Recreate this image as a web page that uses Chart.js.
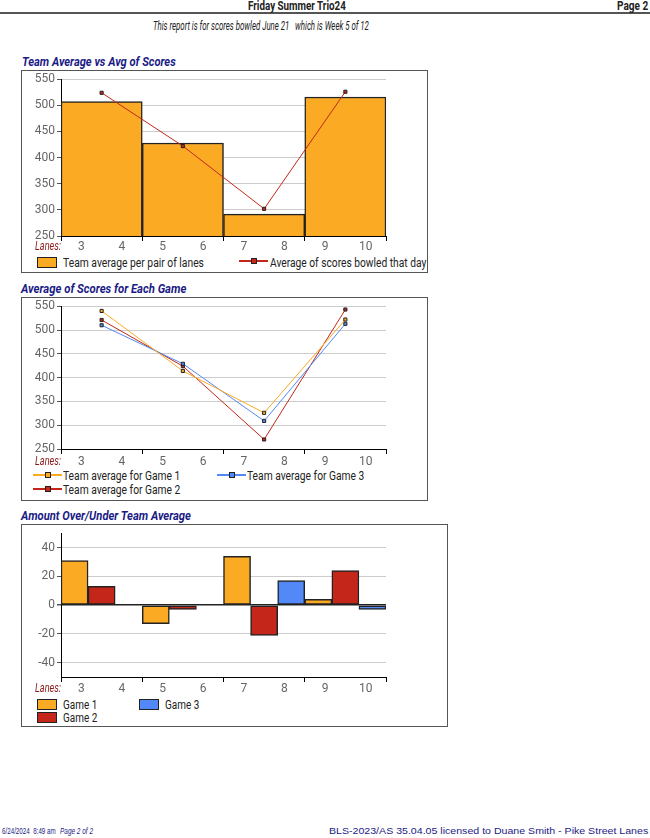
<!DOCTYPE html>
<html>
<head>
<meta charset="utf-8">
<script src="https://cdn.jsdelivr.net/npm/chart.js@4.4.1/dist/chart.umd.min.js"></script>
<style>
body { margin: 0; width: 650px; height: 838px; position: relative; background: #fff; font-family: Roboto, sans-serif; overflow: hidden; }
.t { position: absolute; white-space: pre; transform-origin: 0 50%; line-height: 1; }
.box { position: absolute; border: 1.5px solid #555; box-sizing: border-box; }
.rule { position: absolute; left: 0; width: 650px; top: 12px; height: 2px; background: #555; }
canvas { position: absolute; }
.sw { position: absolute; border: 1px solid #222; box-sizing: border-box; }
.ln { position: absolute; height: 1.5px; }
.mk { position: absolute; width: 6px; height: 6px; border: 1px solid #222; box-sizing: border-box; }
</style>
</head>
<body>
<div class="rule"></div>
<div class="box" style="left:21px;top:70px;width:407px;height:203px"></div>
<div class="box" style="left:21px;top:297px;width:407px;height:204px"></div>
<div class="box" style="left:21px;top:524px;width:427px;height:203px"></div>
<canvas id="avgChart" width="407" height="186" style="left:21px;top:70px"></canvas>
<canvas id="gameChart" width="407" height="172" style="left:21px;top:297px"></canvas>
<canvas id="diffChart" width="407" height="173" style="left:21px;top:524px"></canvas>

<script>
// data
const pairLabels = ['3-4', '5-6', '7-8', '9-10'];
const laneLabels = ['3', '4', '5', '6', '7', '8', '9', '10'];

const teamAverage = [507, 428, 292, 516];
const avgOfScores = [524, 422, 302, 526];

const game1Avg = [540, 414, 326, 522];
const game2Avg = [521, 424, 270, 543];
const game3Avg = [510, 429, 309, 513];

const game1Diff = [31, -13, 34, 4];
const game2Diff = [13, -3, -21, 24];
const game3Diff = [0, 0, 17, -3];

const diffTicks = [-40, -20, 0, 20, 40];

const gameNames = ['Game 1', 'Game 2', 'Game 3'];

const ORANGE = '#FBAA24';
const RED = '#C42719';
const BLUE = '#5288F7';
const NAVY = '#1B1B86';

// ---- text helpers ----
function addText(text, x, y, size, opts) {
    opts = opts || {};
    const el = document.createElement('div');
    el.className = 't';
    el.textContent = text;
    el.style.fontSize = size + 'px';
    el.style.fontWeight = opts.bold ? 'bold' : 'normal';
    el.style.fontStyle = opts.italic ? 'italic' : 'normal';
    el.style.color = opts.color || '#222';
    if (opts.family) el.style.fontFamily = opts.family;
    document.body.appendChild(el);
    el.style.top = (y - el.offsetHeight / 2) + 'px';
    let w = el.offsetWidth;
    if (opts.width) {
        el.style.transform = 'scaleX(' + (opts.width / w) + ')';
        w = opts.width;
    }
    if (opts.align === 'right') x = x - w;
    if (opts.align === 'center') x = x - w / 2;
    el.style.left = x + 'px';
    return el;
}

function addSwatch(x, y, w, h, color) {
    const el = document.createElement('div');
    el.className = 'sw';
    Object.assign(el.style, { left: x + 'px', top: y + 'px', width: w + 'px', height: h + 'px', background: color });
    document.body.appendChild(el);
}

function addLineKey(x, y, w, color) {
    const ln = document.createElement('div');
    ln.className = 'ln';
    Object.assign(ln.style, { left: x + 'px', top: (y - 0.75) + 'px', width: w + 'px', background: color });
    document.body.appendChild(ln);
    const mk = document.createElement('div');
    mk.className = 'mk';
    Object.assign(mk.style, { left: (x + w / 2 - 3) + 'px', top: (y - 3) + 'px', background: color });
    document.body.appendChild(mk);
}

// ---- page text ----
addText('Friday Summer Trio24', 297, 6, 12, { bold: true, align: 'center', width: 98 });
addText('Page 2', 648, 6, 12, { bold: true, align: 'right', width: 31 });
addText('This report is for scores bowled June 21   which is Week 5 of 12', 153, 26, 12, { italic: true, width: 216 });

addText('Team Average vs Avg of Scores', 22, 62, 12, { bold: true, italic: true, color: NAVY, width: 154 });
addText('Average of Scores for Each Game', 21, 289, 12, { bold: true, italic: true, color: NAVY, width: 165 });
addText('Amount Over/Under Team Average', 21, 516, 12, { bold: true, italic: true, color: NAVY, width: 170 });

addText('Lanes:', 35, 246, 12, { italic: true, color: '#8B1A1A', width: 26 });
addText('Lanes:', 35, 461, 12, { italic: true, color: '#8B1A1A', width: 26 });
addText('Lanes:', 35, 688, 12, { italic: true, color: '#8B1A1A', width: 26 });

// legends
addSwatch(37, 257, 20, 11, ORANGE);
addText('Team average per pair of lanes', 63, 263, 12, { width: 141 });
addLineKey(239, 261, 29, RED);
addText('Average of scores bowled that day', 270, 263, 12, { width: 156 });

addLineKey(33, 475, 29, ORANGE);
addText('Team average for ' + gameNames[0], 63, 476, 12, { width: 117 });
addLineKey(33, 489, 29, RED);
addText('Team average for ' + gameNames[1], 63, 490, 12, { width: 117 });
addLineKey(217, 475, 29, BLUE);
addText('Team average for ' + gameNames[2], 247, 476, 12, { width: 117 });

addSwatch(37, 699, 20, 11, ORANGE);
addText(gameNames[0], 63, 705, 12, { width: 34 });
addSwatch(37, 712, 20, 11, RED);
addText(gameNames[1], 63, 718, 12, { width: 34 });
addSwatch(139, 699, 20, 11, BLUE);
addText(gameNames[2], 165, 705, 12, { width: 34 });

// footer
addText('6/24/2024  8:49 am', 2, 831, 9, { color: NAVY, family: 'Liberation Sans, Arial, sans-serif', width: 54 });
addText('Page 2 of 2', 60, 831, 9, { italic: true, color: NAVY, family: 'Liberation Sans, Arial, sans-serif', width: 33 });
addText('BLS-2023/AS 35.04.05 licensed to Duane Smith - Pike Street Lanes', 648, 831, 9, { color: NAVY, family: 'Liberation Sans, Arial, sans-serif', align: 'right', width: 319 });

// ---- chart helpers ----
Chart.defaults.font.family = 'Roboto';
Chart.defaults.font.size = 12;

function pairAxis() {
    return {
        type: 'category',
        labels: pairLabels,
        offset: true,
        grid: { offset: true, drawOnChartArea: false, color: '#000', tickColor: '#000', tickLength: 5 },
        ticks: { display: false },
        border: { color: '#000', width: 1 },
        afterFit: s => { s.height = 0; }
    };
}

function laneAxis(pad) {
    return {
        type: 'linear',
        position: 'bottom',
        offset: false,
        min: 0,
        max: laneLabels.length,
        afterBuildTicks: s => { s.ticks = laneLabels.map((l, i) => ({ value: i + 0.5 })); },
        ticks: { autoSkip: false, maxRotation: 0, color: '#666', padding: pad, callback: (v, i) => laneLabels[i] },
        grid: { display: false, drawTicks: false, offset: false },
        border: { display: false },
        afterFit: s => { s.height = 20; }
    };
}

function scoreAxis() {
    return {
        min: 250,
        max: 550,
        ticks: { stepSize: 50, color: '#666', padding: 2 },
        grid: { color: '#ccc', tickColor: '#555', tickLength: 4 },
        border: { color: '#000' },
        afterFit: s => { s.width = 40; }
    };
}

function baseOptions(scales, top) {
    return {
        responsive: false,
        animation: false,
        events: [],
        layout: { padding: { top: top, right: 42, left: 0, bottom: 0 } },
        plugins: { legend: { display: false }, tooltip: { enabled: false } },
        scales: scales
    };
}

function lineSet(label, data, color) {
    return {
        type: 'line', label: label, data: data,
        borderColor: color, borderWidth: 1, backgroundColor: color,
        pointStyle: 'rect', pointRadius: 2.2, pointBorderColor: '#222', pointBorderWidth: 1,
        tension: 0, order: 0
    };
}

function barSet(label, data, color) {
    return {
        type: 'bar', label: label, data: data,
        backgroundColor: color, borderColor: '#222', borderWidth: 1.5, borderSkipped: false,
        barPercentage: 1, categoryPercentage: 1, order: 1
    };
}

// chart 1
new Chart(document.getElementById('avgChart'), {
    data: {
        labels: pairLabels,
        datasets: [
            lineSet('Average of scores bowled that day', avgOfScores, RED),
            barSet('Team average per pair of lanes', teamAverage, ORANGE)
        ]
    },
    options: baseOptions({ x: pairAxis(), x2: laneAxis(4), y: scoreAxis() }, 8)
});

// chart 2
new Chart(document.getElementById('gameChart'), {
    data: {
        labels: pairLabels,
        datasets: [
            lineSet('Team average for Game 1', game1Avg, ORANGE),
            lineSet('Team average for Game 3', game3Avg, BLUE),
            lineSet('Team average for Game 2', game2Avg, RED)
        ]
    },
    options: baseOptions({ x: pairAxis(), x2: laneAxis(6), y: scoreAxis() }, 8)
});

// chart 3
new Chart(document.getElementById('diffChart'), {
    type: 'bar',
    data: {
        labels: pairLabels,
        datasets: [
            barSet(gameNames[0], game1Diff, ORANGE),
            barSet(gameNames[1], game2Diff, RED),
            barSet(gameNames[2], game3Diff, BLUE)
        ]
    },
    options: baseOptions({
        x: pairAxis(),
        x2: laneAxis(5),
        y: {
            min: -50,
            max: 50,
            afterBuildTicks: s => { s.ticks = diffTicks.map(v => ({ value: v })); },
            ticks: { color: '#666', padding: 2 },
            grid: {
                color: c => (c.tick && c.tick.value === 0) ? '#222' : '#ccc',
                lineWidth: c => (c.tick && c.tick.value === 0) ? 1.5 : 1,
                tickColor: '#555', tickLength: 4
            },
            border: { color: '#000' },
            afterFit: s => { s.width = 40; }
        }
    }, 9)
});
</script>
</body>
</html>
